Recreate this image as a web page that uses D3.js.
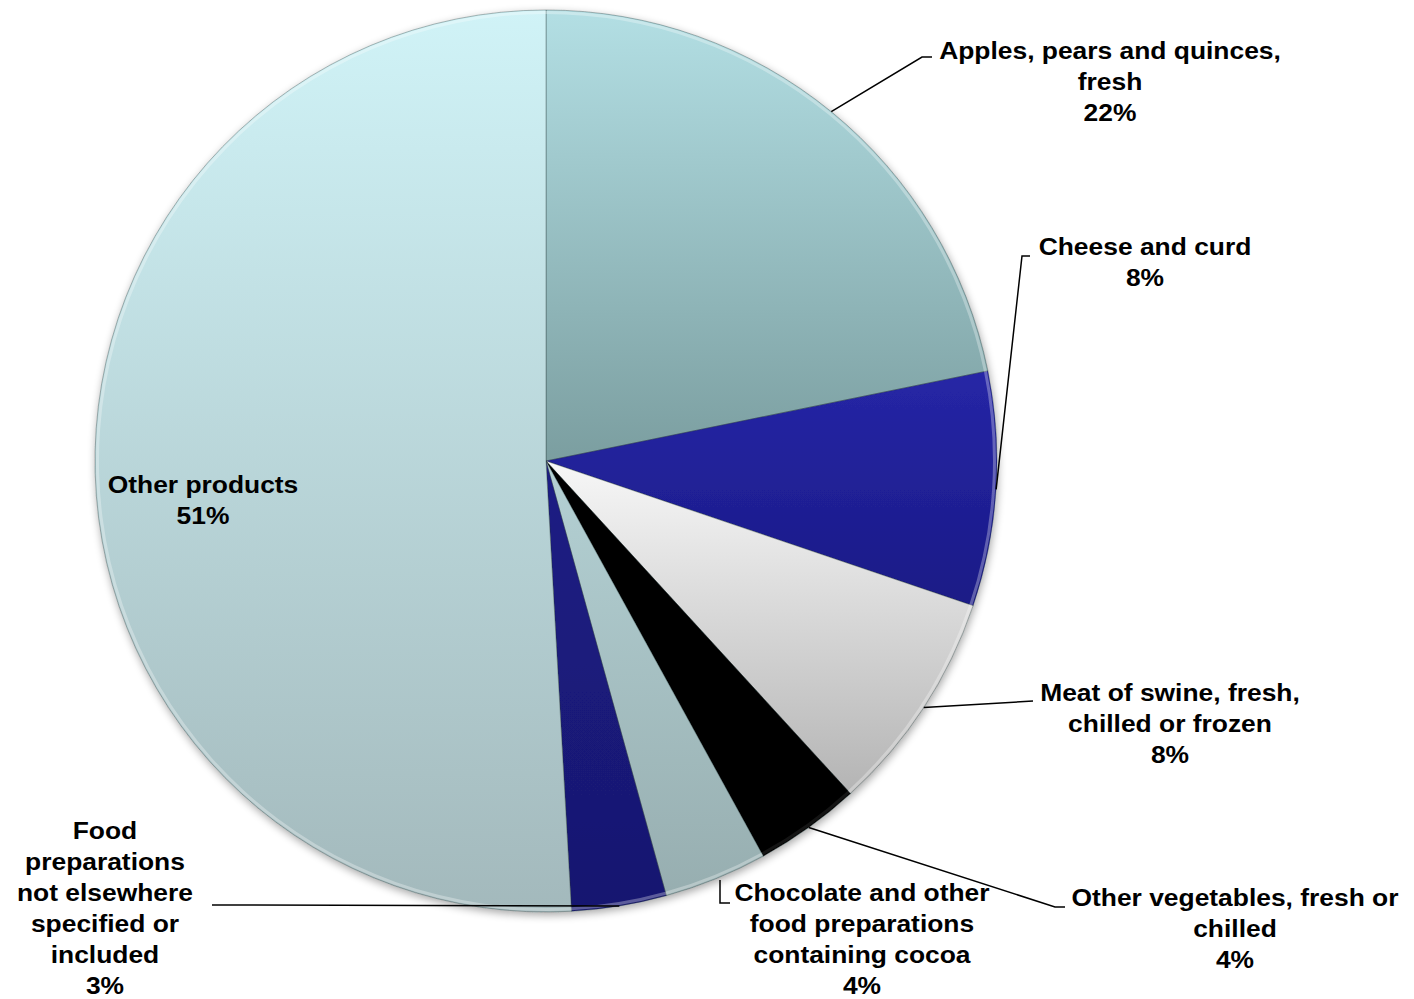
<!DOCTYPE html>
<html>
<head>
<meta charset="utf-8">
<script src="https://cdn.jsdelivr.net/npm/d3@7"></script>
<style>
  body { margin: 0; background: #fff; }
  #chart { width: 1414px; height: 999px; }
  text { font-family: "Liberation Sans", Arial, sans-serif; font-weight: bold; font-size: 24px; fill: #000; }
</style>
</head>
<body>
<div id="chart"></div>
<script>
// slice data, clockwise from 12 o'clock
const categories = [
    "Apples, pears and quinces, fresh",
    "Cheese and curd",
    "Meat of swine, fresh, chilled or frozen",
    "Other vegetables, fresh or chilled",
    "Chocolate and other food preparations containing cocoa",
    "Food preparations not elsewhere specified or included",
    "Other products"
];
const shares = [21.8, 8.4, 8.0, 3.8, 3.7, 3.4, 50.9];

// label text split in lines (the % line is added from the value)
const labelLines = [
    ["Apples, pears and quinces,", "fresh"],
    ["Cheese and curd"],
    ["Meat of swine, fresh,", "chilled or frozen"],
    ["Other vegetables, fresh or", "chilled"],
    ["Chocolate and other", "food preparations", "containing cocoa"],
    ["Food", "preparations", "not elsewhere", "specified or", "included"],
    ["Other products"]
];

// gradient colours top -> bottom
const colorsTop = ["#b3dfe4", "#2626a6", "#f7f7f7", "#000000", "#b4d1d4", "#1c1c84", "#d0f3f7"];
const colorsBottom = ["#7b9ea0", "#1a1a86", "#b4b4b4", "#000000", "#97aeb0", "#181870", "#a3b9bc"];

// layout for labels: centre x, first line y, leader end point (null = inside)
const labelLayout = [
    { x: 1110, y: 50, lead: [[922, 57], [932, 57]] },
    { x: 1145, y: 246, lead: [[1022, 256], [1030, 256]] },
    { x: 1170, y: 692, lead: [[1033, 701]] },
    { x: 1235, y: 897, lead: [[1055, 907], [1065, 907]] },
    { x: 862, y: 892, lead: [[720, 903], [730, 903]], vertical: true },
    { x: 105, y: 830, lead: [[212, 905]] },
    { x: 203, y: 484, lead: null }
];
const lineHeight = 31;
const stretch = 1.1; // the original text is a bit wide

const width = 1414, height = 999;
const cx = 546, cy = 461, radius = 451;

const svg = d3.select("#chart").append("svg")
    .attr("width", width)
    .attr("height", height);

const defs = svg.append("defs");

const shadow = defs.append("filter").attr("id", "shadow")
    .attr("x", "-10%").attr("y", "-10%").attr("width", "120%").attr("height", "120%");
shadow.append("feGaussianBlur").attr("in", "SourceAlpha").attr("stdDeviation", 4).attr("result", "blur");
shadow.append("feOffset").attr("in", "blur").attr("dx", 1).attr("dy", 3).attr("result", "off");
shadow.append("feComponentTransfer").attr("in", "off").attr("result", "sh")
    .append("feFuncA").attr("type", "linear").attr("slope", 0.35);
const merge = shadow.append("feMerge");
merge.append("feMergeNode").attr("in", "sh");
merge.append("feMergeNode").attr("in", "SourceGraphic");

categories.forEach(function (c, i) {
    const g = defs.append("linearGradient")
        .attr("id", "grad" + i)
        .attr("x1", 0).attr("y1", 0).attr("x2", 0).attr("y2", 1);
    g.append("stop").attr("offset", "0%").attr("stop-color", colorsTop[i]);
    g.append("stop").attr("offset", "100%").attr("stop-color", colorsBottom[i]);
});

const pie = d3.pie().sort(null).value(function (d) { return d; });
const arcs = pie(shares);

const arc = d3.arc().innerRadius(0).outerRadius(radius);
const rim = d3.arc().innerRadius(radius - 4).outerRadius(radius - 1);

const pieG = svg.append("g")
    .attr("transform", `translate(${cx},${cy})`);

pieG.append("g")
    .attr("filter", "url(#shadow)")
    .selectAll("path")
    .data(arcs)
    .join("path")
    .attr("d", arc)
    .attr("fill", function (d, i) { return `url(#grad${i})`; })
    .attr("stroke", "rgba(40,60,60,0.45)")
    .attr("stroke-width", 0.8);

// light bevel along the rim
pieG.append("g")
    .selectAll("path")
    .data(arcs)
    .join("path")
    .attr("d", rim)
    .attr("fill", function (d, i) { return i === 3 ? "rgba(255,255,255,0.08)" : "rgba(255,255,255,0.3)"; });

// leader lines
svg.append("g")
    .selectAll("polyline")
    .data(arcs.filter(function (d, i) { return labelLayout[i].lead; }))
    .join("polyline")
    .attr("points", function (d) {
        const i = d.index;
        const lay = labelLayout[i];
        const mid = (d.startAngle + d.endAngle) / 2;
        let start;
        if (lay.vertical) {
            // drop straight down from the pie edge
            const x = lay.lead[0][0] - cx;
            start = [lay.lead[0][0], cy + Math.sqrt(radius * radius - x * x) + 3];
        } else {
            start = [cx + radius * Math.sin(mid), cy - radius * Math.cos(mid)];
        }
        return [start].concat(lay.lead).map(function (p) { return p.join(","); }).join(" ");
    })
    .attr("fill", "none")
    .attr("stroke", "#000")
    .attr("stroke-width", 1.5);

// labels
const labels = svg.append("g")
    .selectAll("text")
    .data(arcs)
    .join("text")
    .attr("text-anchor", "middle")
    .attr("transform", function (d) {
        const x = labelLayout[d.index].x;
        return `translate(${x},0) scale(${stretch},1) translate(${-x},0)`;
    })
    .attr("x", function (d) { return labelLayout[d.index].x; })
    .attr("y", function (d) { return labelLayout[d.index].y; });

labels.each(function (d) {
    const t = d3.select(this);
    const lines = labelLines[d.index].concat([Math.round(d.value) + "%"]);
    lines.forEach(function (l, k) {
        t.append("tspan")
            .attr("x", labelLayout[d.index].x)
            .attr("y", labelLayout[d.index].y + k * lineHeight)
            .attr("dy", "0.36em")
            .text(l);
    });
});
</script>
</body>
</html>
